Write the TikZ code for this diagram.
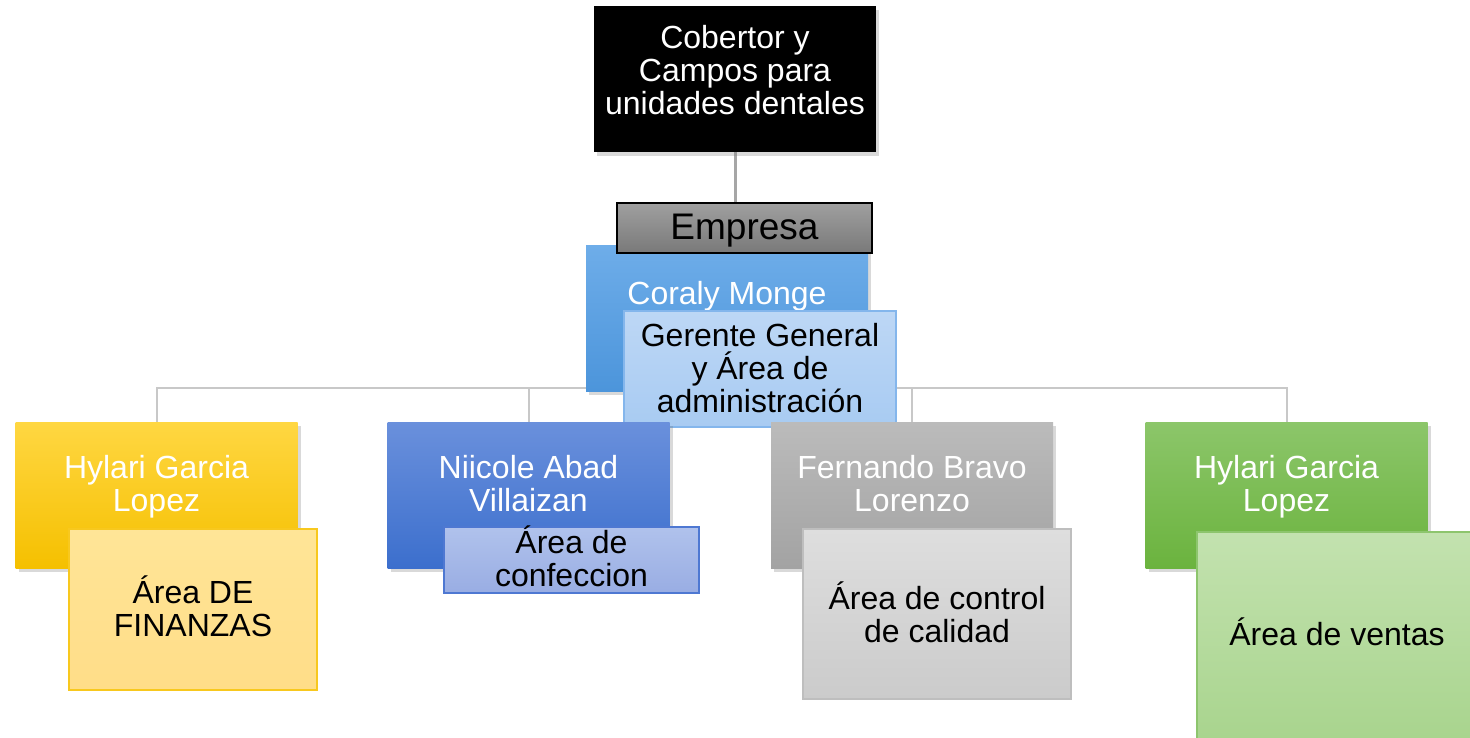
\documentclass[tikz,border=0pt]{standalone}
\usepackage{fontspec}
\setmainfont{Liberation Sans}
\usetikzlibrary{positioning,shadows,backgrounds}

\definecolor{linegray}{HTML}{C8C8C8}
\definecolor{stemgray}{HTML}{A6A6A6}
\definecolor{goldtop}{HTML}{FFD742}
\definecolor{goldbot}{HTML}{F5C000}
\definecolor{goldlt}{HTML}{FFE597}
\definecolor{goldltb}{HTML}{FFDD88}
\definecolor{golded}{HTML}{F8C81E}
\definecolor{bluetop}{HTML}{6A90DC}
\definecolor{bluebot}{HTML}{3C6FCD}
\definecolor{bluelt}{HTML}{B0C2EC}
\definecolor{blueltb}{HTML}{99ADE3}
\definecolor{blueed}{HTML}{4E78D2}
\definecolor{greytop}{HTML}{BBBBBB}
\definecolor{greybot}{HTML}{A3A3A3}
\definecolor{greylt}{HTML}{DEDEDE}
\definecolor{greyltb}{HTML}{CBCBCB}
\definecolor{greyed}{HTML}{BEBEBE}
\definecolor{greentop}{HTML}{8CC66A}
\definecolor{greenbot}{HTML}{6BB33E}
\definecolor{greenlt}{HTML}{C3E2AF}
\definecolor{greenltb}{HTML}{A8D48D}
\definecolor{greened}{HTML}{8DC56D}
\definecolor{skytop}{HTML}{6EADE9}
\definecolor{skybot}{HTML}{4C95DB}
\definecolor{skylt}{HTML}{BDD7F5}
\definecolor{skyltb}{HTML}{A8CBF2}
\definecolor{skyed}{HTML}{84B6EC}

\tikzset{
  box/.style={rectangle, inner sep=0pt, minimum width=282pt, minimum height=146pt},
  chief/.style={box, drop shadow={shadow xshift=3pt, shadow yshift=-4pt, opacity=.3}},
  areabox/.style={rectangle, inner sep=0pt, line width=2pt},
  txt/.style={align=center, inner sep=0pt, font=\fontsize{32}{33}\selectfont},
  wtxt/.style={txt, text=white},
  link/.style={draw=linegray, line width=2pt},
}

\begin{document}
\begin{tikzpicture}[x=1pt,y=-1pt]
  \useasboundingbox (0,0) rectangle (1470,737);

  % Cabeza
  \node[chief, fill=black] (head) at (735,79) {};
  \node[wtxt] (headtxt) at (735,70) {Cobertor y\\Campos para\\unidades dentales};

  % Gerencia
  \node[chief, top color=skytop, bottom color=skybot] (coraly) at (727,318) {};
  \node[wtxt] (coralytxt) at (727,296) {Coraly Monge};
  \node[areabox, draw=skyed, top color=skylt, bottom color=skyltb,
        minimum width=272pt, minimum height=116pt] (gerente) at (760,369) {};
  \node[txt] (gerentetxt) at (760,368) {Gerente General\\y Área de\\administración};

  % Empresa
  \node[areabox, draw=black, top color=gray!75, bottom color=gray!95!black,
        minimum width=255pt, minimum height=50pt] (empresa) at (744.5,228) {};
  \node[txt, font=\fontsize{37}{40}\selectfont] (empresatxt) at (744.5,231) {Empresa};

  % Areas
  \node[chief, top color=goldtop, bottom color=goldbot] (hylari) at (156.5,495) {};
  \node[wtxt] (hylaritxt) at (156.5,486.5) {Hylari Garcia\\Lopez};
  \node[areabox, draw=golded, top color=goldlt, bottom color=goldltb,
        minimum width=248pt, minimum height=161pt] (finan) at (193,609.5) {};
  \node[txt] (finantxt) at (193,606.5) {Área DE\\FINANZAS};

  \node[chief, top color=bluetop, bottom color=bluebot] (niicole) at (528.5,495) {};
  \node[wtxt] (niicoletxt) at (528.5,483.5) {Niicole Abad\\Villaizan};
  \node[areabox, draw=blueed, top color=bluelt, bottom color=blueltb,
        minimum width=255pt, minimum height=66pt] (confe) at (571.5,560) {};
  \node[txt] (confetxt) at (571.5,556.5) {Área de\\confeccion};

  \node[chief, top color=greytop, bottom color=greybot] (fernando) at (912,495) {};
  \node[wtxt] (fernandotxt) at (912,483.5) {Fernando Bravo\\Lorenzo};
  \node[areabox, draw=greyed, top color=greylt, bottom color=greyltb,
        minimum width=268pt, minimum height=170pt] (calid) at (937,614) {};
  \node[txt] (calidtxt) at (937,612.5) {Área de control\\de calidad};

  \node[chief, top color=greentop, bottom color=greenbot] (hylari2) at (1286.5,495) {};
  \node[wtxt] (hylari2txt) at (1286.5,486.5) {Hylari Garcia\\Lopez};
  \node[areabox, draw=greened, top color=greenlt, bottom color=greenltb,
        minimum width=282pt, minimum height=212pt] (venta) at (1338,638) {};
  \node[txt] (ventatxt) at (1337,632) {Área de ventas};

  % Lineas
  \coordinate (bar) at (0,388);
  \begin{pgfonlayer}{background}
    \draw[draw=stemgray, line width=3pt] (head.south) -- (head.south |- empresa.north);
    \foreach \c in {hylari,niicole,fernando,hylari2}
      \draw[link] (coraly.center) -- (coraly.center |- bar) -| (\c.north);
  \end{pgfonlayer}
\end{tikzpicture}
\end{document}
